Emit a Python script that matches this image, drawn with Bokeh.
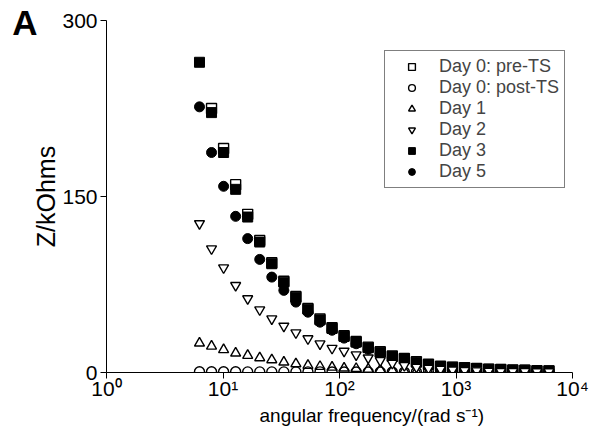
import math
from bokeh.plotting import figure
from bokeh.models import FixedTicker, Legend, LegendItem, LinearAxis, Title
from bokeh.embed import file_html
from bokeh.resources import INLINE

nan = float("nan")

# angular frequency (rad/s)
freq = [6.283, 7.973, 10.12, 12.84, 16.29, 20.67, 26.23, 33.29, 42.24, 53.60,
        68.02, 86.31, 109.5, 139.0, 176.4, 223.8, 284.0, 360.4, 457.3, 580.3,
        736.4, 934.4, 1186, 1505, 1909, 2423, 3074, 3901, 4951, 6282]

day0_pre = [nan, 225.0, 190.9, 160.1, 134.8, 112.6, 93.6, 77.8, 64.8, 54.6,
            45.6, 38.2, 31.4, 26.4, 21.6, 17.7, 14.1, 12.0, 9.1, 7.0,
            5.3, 4.6, 4.1, 3.5, 2.9, 2.6, 2.1, 2.0, 1.5, 1.4]
day0_post = [0.6, 0.6, 0.6, 0.6, 0.5, 0.5, 0.5, 0.5, 0.5, 0.5,
             0.5, 0.4, 0.4, 0.4, 0.4, 0.4, 0.4, 0.3, 0.3, 0.3,
             0.3, 0.3, 0.3, 0.3, 0.3, 0.2, 0.2, 0.2, 0.2, 0.2]
day1 = [25.0, 22.4, 19.4, 16.5, 14.5, 12.5, 10.8, 8.8, 7.4, 6.0,
        5.1, 4.5, 3.7, 3.4, 2.8, 2.3, 1.8, 1.4, 1.0, 0.8,
        0.6, 0.5, 0.4, 0.3, 0.3, 0.2, 0.2, 0.2, 0.1, 0.1]
day2 = [126.9, 105.5, 89.3, 74.2, 62.9, 53.5, 45.8, 39.5, 33.9, 28.8,
        24.5, 20.7, 18.2, 15.1, 12.5, 10.2, 7.9, 6.0, 4.6, 3.6,
        2.8, 2.2, 1.8, 1.5, 1.2, 1.0, 0.9, 0.8, 0.7, 0.6]
day3 = [264.4, 221.5, 187.5, 156.1, 132.5, 111.2, 92.7, 77.0, 64.2, 54.0,
        44.8, 37.5, 30.7, 25.9, 21.1, 17.3, 13.7, 11.7, 8.8, 6.8,
        5.1, 4.5, 4.0, 3.4, 2.8, 2.6, 2.0, 2.0, 1.4, 1.4]
day5 = [226.4, 187.5, 158.7, 133.1, 114.1, 96.4, 81.3, 70.0, 60.0, 51.4,
        42.9, 36.0, 29.3, 24.5, 19.8, 16.0, 12.6, 10.6, 7.9, 6.0,
        4.5, 3.9, 3.4, 2.9, 2.4, 2.1, 1.7, 1.5, 1.1, 1.0]

series_labels = ["Day 0: pre-TS", "Day 0: post-TS", "Day 1", "Day 2", "Day 3", "Day 5"]
x_ticks = [1, 10, 100, 1000, 10000]
x_tick_labels = ["10\u2070", "10\u00b9", "10\u00b2", "10\u00b3", "10\u2074"]
y_ticks = [0, 150, 300]
x_title = "angular frequency/(rad s\u207b\u00b9)"
y_title = "Z/kOhms"
panel_letter = "A"

FONT = "Liberation Sans"

p = figure(width=594, height=435, x_axis_type="log", x_range=(1, 1e4), y_range=(0, 300),
           output_backend="svg", toolbar_location=None,
           frame_width=466, frame_height=352,
           min_border_left=106, min_border_right=22, min_border_top=20, min_border_bottom=63)
p.outline_line_color = None
p.grid.grid_line_color = None
p.background_fill_color = "white"
p.border_fill_color = "white"

r_pre = p.scatter(freq, day0_pre, marker="square", size=10, fill_color="white",
                  line_color="black", line_width=1.4)
r3 = p.scatter(freq, day3, marker="square", size=10, fill_color="black", line_color="black")
r5 = p.scatter(freq, day5, marker="circle", size=10, fill_color="black", line_color="black")
r_post = p.scatter(freq, day0_post, marker="circle", size=10, fill_color=None,
                   line_color="black", line_width=1.4)
r1 = p.scatter(freq, day1, marker="triangle", size=10, fill_color=None,
               line_color="black", line_width=1.4)
r2 = p.scatter(freq, day2, marker="inverted_triangle", size=10, fill_color="white",
               line_color="black", line_width=1.4)

renderers = [r_pre, r_post, r1, r2, r3, r5]
legend = Legend(items=[LegendItem(label=l, renderers=[r]) for l, r in zip(series_labels, renderers)],
                location=(278, 184))
legend.label_text_font = FONT
legend.label_text_font_size = "18px"
legend.label_height = 17
legend.glyph_height = 17
legend.glyph_width = 43
legend.label_standoff = 6
legend.spacing = 0
legend.padding = 5
legend.margin = 0
legend.border_line_color = "black"
legend.border_line_width = 1
legend.background_fill_alpha = 1.0
p.add_layout(legend, "center")

for ax in (p.xaxis, p.yaxis):
    ax.axis_line_color = "black"
    ax.major_tick_in = 0
    ax.major_tick_out = 6
    ax.minor_tick_line_color = None
    ax.major_label_text_font = FONT
    ax.major_label_text_font_size = "21px"
    ax.major_label_text_color = "black"
    ax.axis_label_text_font = FONT
    ax.axis_label_text_font_style = "normal"
    ax.axis_label_text_color = "black"

p.xaxis.ticker = FixedTicker(ticks=x_ticks, minor_ticks=[])
p.xaxis.major_label_overrides = {t: s for t, s in zip(x_ticks, x_tick_labels)}
p.xaxis.major_label_standoff = -2

p.yaxis.ticker = FixedTicker(ticks=y_ticks, minor_ticks=[])
p.yaxis.axis_label = y_title
p.yaxis.axis_label_text_font_size = "25px"
p.yaxis.axis_label_standoff = -1
p.yaxis.major_label_standoff = 3

# x-axis title, placed below the axis
p.add_layout(Title(text=x_title, align="left", offset=153, standoff=0,
                   text_font=FONT, text_font_size="19px", text_font_style="normal",
                   text_color="black"), "below")

# panel letter, drawn as the single tick label of an extra bare axis on the far left
letter_axis = LinearAxis(ticker=FixedTicker(ticks=[298], minor_ticks=[]),
                         major_label_overrides={298: panel_letter},
                         axis_line_color=None, major_tick_line_color=None,
                         minor_tick_line_color=None, major_tick_out=0, major_tick_in=0,
                         major_label_standoff=-8,
                         major_label_text_font=FONT, major_label_text_font_size="35px",
                         major_label_text_font_style="bold", major_label_text_color="black")
p.add_layout(letter_axis, "left")

open("out.html", "w").write(file_html(p, INLINE))
